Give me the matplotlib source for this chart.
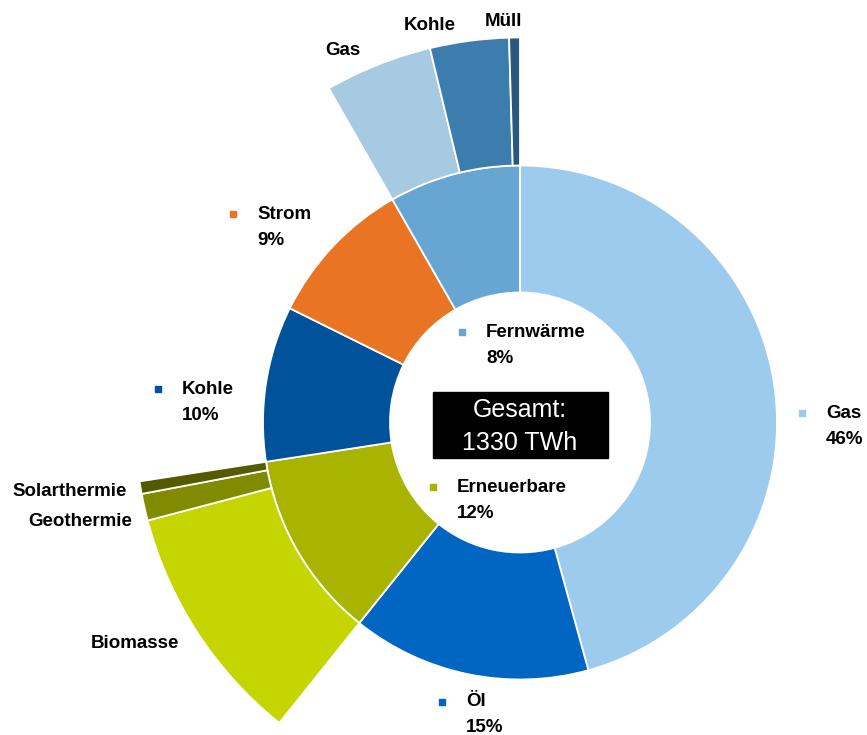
import matplotlib.pyplot as plt

# Endenergie Wärme, TWh (gesamt 1330)
categories = ['Gas', 'Öl', 'Erneuerbare', 'Kohle', 'Strom', 'Fernwärme']
values = [608, 200, 157, 130, 125, 110]
colors = ['#9dcbee', '#0066c2', '#a9b400', '#00539b', '#e97524', '#67a5d2']

# Aufteilung Fernwärme und Erneuerbare
fw_labels = ['Gas', 'Kohle', 'Müll']
fw_values = [60, 44, 6]
fw_colors = ['#a7cae3', '#3d7dae', '#2a577d']

ee_labels = ['Biomasse', 'Geothermie', 'Solarthermie']
ee_values = [135, 15, 7]
ee_colors = ['#c5d500', '#808b00', '#535a00']

total_text = 'Gesamt:\n1330 TWh'

W, H = 867, 735
cx, cy = 520, H - 422.5
FS = 13.5

fig = plt.figure(figsize=(W / 100, H / 100), dpi=100)
ax = fig.add_axes([0, 0, 1, 1])

# inner ring
ax.pie(values, radius=257, center=(cx, cy), startangle=90, counterclock=False,
       colors=colors, wedgeprops=dict(width=127, edgecolor='white', linewidth=1.3))

# outer ring: only Erneuerbare and Fernwärme are split up
outer_vals = []
outer_cols = []
for cat, v in zip(categories, values):
    if cat == 'Erneuerbare':
        outer_vals += ee_values
        outer_cols += ee_colors
    elif cat == 'Fernwärme':
        outer_vals += fw_values
        outer_cols += fw_colors
    else:
        outer_vals.append(v)
        outer_cols.append(None)

wedges, _ = ax.pie(outer_vals, radius=385, center=(cx, cy), startangle=90,
                   counterclock=False, colors=[c or 'white' for c in outer_cols],
                   wedgeprops=dict(width=128, edgecolor='white', linewidth=1.3))
for w, c in zip(wedges, outer_cols):
    if c is None:
        w.set_visible(False)

font = ['Liberation Sans', 'DejaVu Sans']

def label(x, y, name, pct, color):
    ax.scatter([x], [H - y], marker='s', s=20, color=color, zorder=5)
    ax.text(x + 24, H - y, name, ha='left', va='center', fontsize=FS,
            fontweight='bold', family=font)
    ax.text(x + 24, H - y - 26, pct, ha='left', va='center', fontsize=FS,
            fontweight='bold', family=font)

label_pos = {
    'Gas': (802, 413),
    'Öl': (442, 702),
    'Erneuerbare': (433, 487),
    'Kohle': (158, 389),
    'Strom': (233, 214),
    'Fernwärme': (462, 332),
}
tot = sum(values)
for cat, v, c in zip(categories, values, colors):
    x, y = label_pos[cat]
    label(x, y, cat, '%d%%' % round(100 * v / tot), c)

# outer labels
def olabel(x, y, s, ha):
    ax.text(x, H - y, s, ha=ha, va='center', fontsize=FS,
            fontweight='bold', family=font)

olabel(343, 50, fw_labels[0], 'center')
olabel(430, 25, fw_labels[1], 'center')
olabel(504, 21, fw_labels[2], 'center')
olabel(135, 643, ee_labels[0], 'center')
olabel(132, 521, ee_labels[1], 'right')
olabel(127, 492, ee_labels[2], 'right')

# total box
ax.add_patch(plt.Rectangle((433, H - 458), 175, 66, color='black', zorder=4))
ax.text(cx, H - 410, total_text.split('\n')[0], ha='center', va='center',
        fontsize=18, color='white', family=font, zorder=5)
ax.text(cx, H - 443, total_text.split('\n')[1], ha='center', va='center',
        fontsize=18, color='white', family=font, zorder=5)

ax.set_xlim(0, W)
ax.set_ylim(0, H)
ax.set_aspect('equal')
ax.axis('off')

fig.savefig('out.png', dpi=100, facecolor='white')
